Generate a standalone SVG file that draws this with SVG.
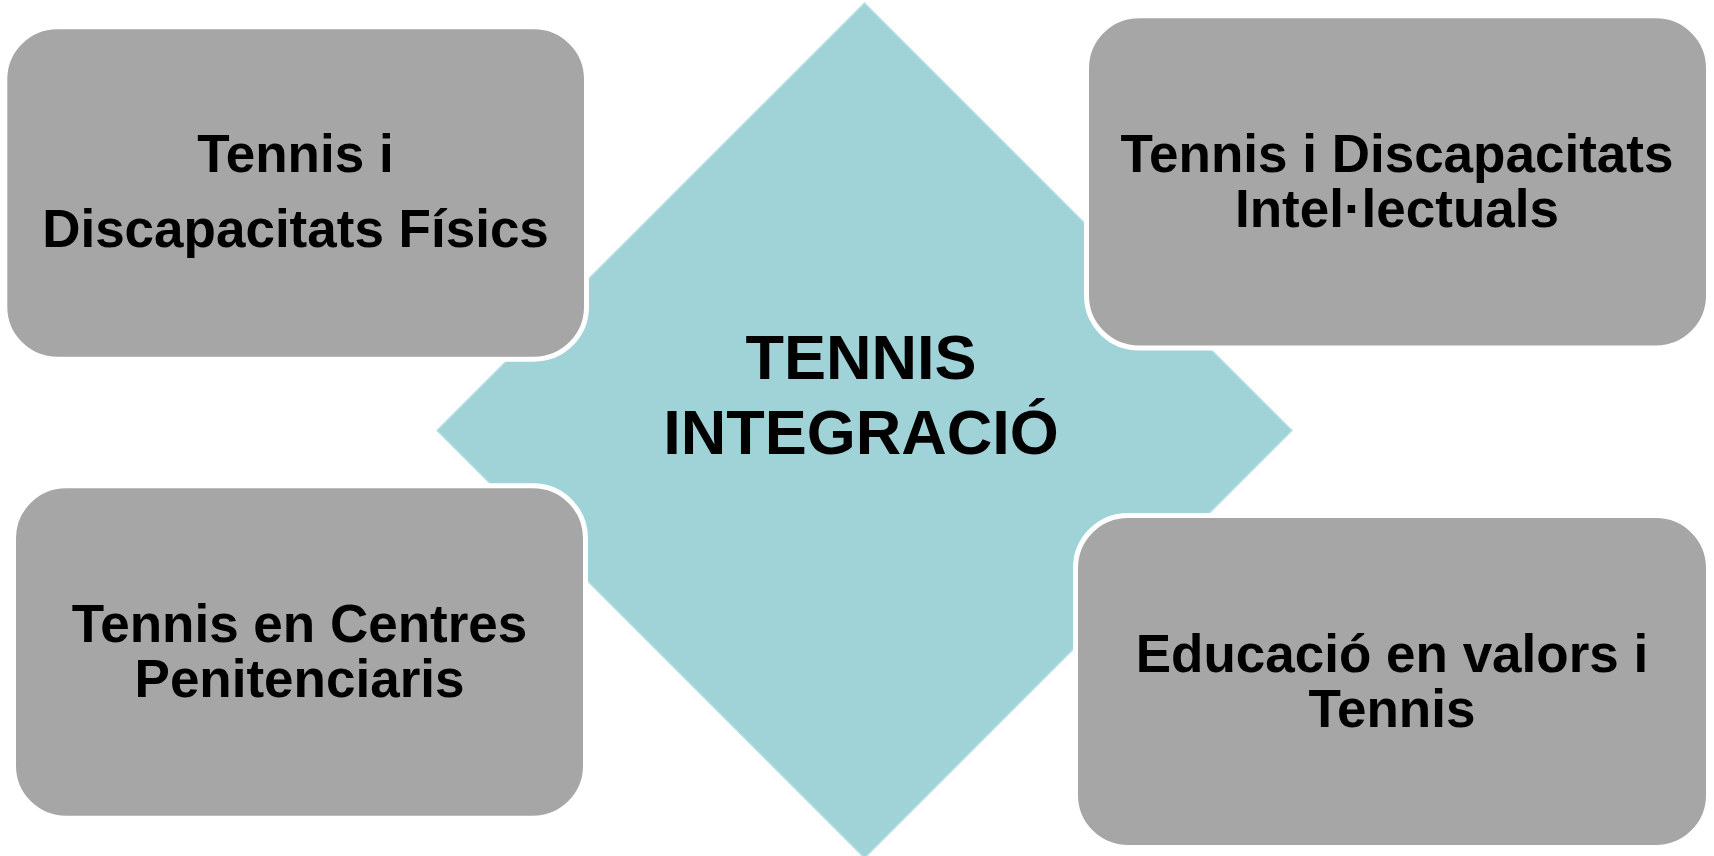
<svg xmlns="http://www.w3.org/2000/svg" width="1714" height="856" viewBox="0 0 1714 856">
  <style>
    .box { fill: #A6A6A6; stroke: #FFFFFF; stroke-width: 5; }
    .hub { fill: #A0D3D8; stroke: #B8DFE2; stroke-width: 1.5; }
    .lbl { font-family: "Liberation Sans", Arial, sans-serif; font-weight: bold; font-size: 53px; fill: #000000; text-anchor: middle; }
    .hublbl { font-family: "Liberation Sans", Arial, sans-serif; font-weight: bold; font-size: 63px; fill: #000000; text-anchor: middle; }
  </style>
  <rect x="0" y="0" width="1714" height="856" fill="#FFFFFF"/>
  <g id="hub">
    <polygon class="hub" points="864.5,3 1292,430.5 864.5,858 437,430.5"/>
  </g>
  <g id="connectors"></g>
  <g id="node-fisics">
    <rect class="box" x="4.8" y="26.8" width="581.7" height="332.4" rx="52.5" ry="52.5"/>
    <text class="lbl" x="295.5" y="172">Tennis i</text>
    <text class="lbl" x="295.5" y="247">Discapacitats Físics</text>
  </g>
  <g id="node-intellectuals">
    <rect class="box" x="1086.5" y="15.8" width="622" height="332.2" rx="52.5" ry="52.5"/>
    <text class="lbl" x="1397" y="172">Tennis i Discapacitats</text>
    <text class="lbl" x="1397" y="227">Intel·lectuals</text>
  </g>
  <g id="node-penitenciaris">
    <rect class="box" x="13.5" y="485.8" width="572" height="332.4" rx="52.5" ry="52.5"/>
    <text class="lbl" x="299.5" y="642">Tennis en Centres</text>
    <text class="lbl" x="299.5" y="697">Penitenciaris</text>
  </g>
  <g id="node-valors">
    <rect class="box" x="1075.5" y="515.5" width="633" height="332" rx="52.5" ry="52.5"/>
    <text class="lbl" x="1392" y="672">Educació en valors i</text>
    <text class="lbl" x="1392" y="727">Tennis</text>
  </g>
  <g id="center-label">
    <text class="hublbl" x="861" y="379">TENNIS</text>
    <text class="hublbl" x="861" y="454">INTEGRACIÓ</text>
  </g>
</svg>
